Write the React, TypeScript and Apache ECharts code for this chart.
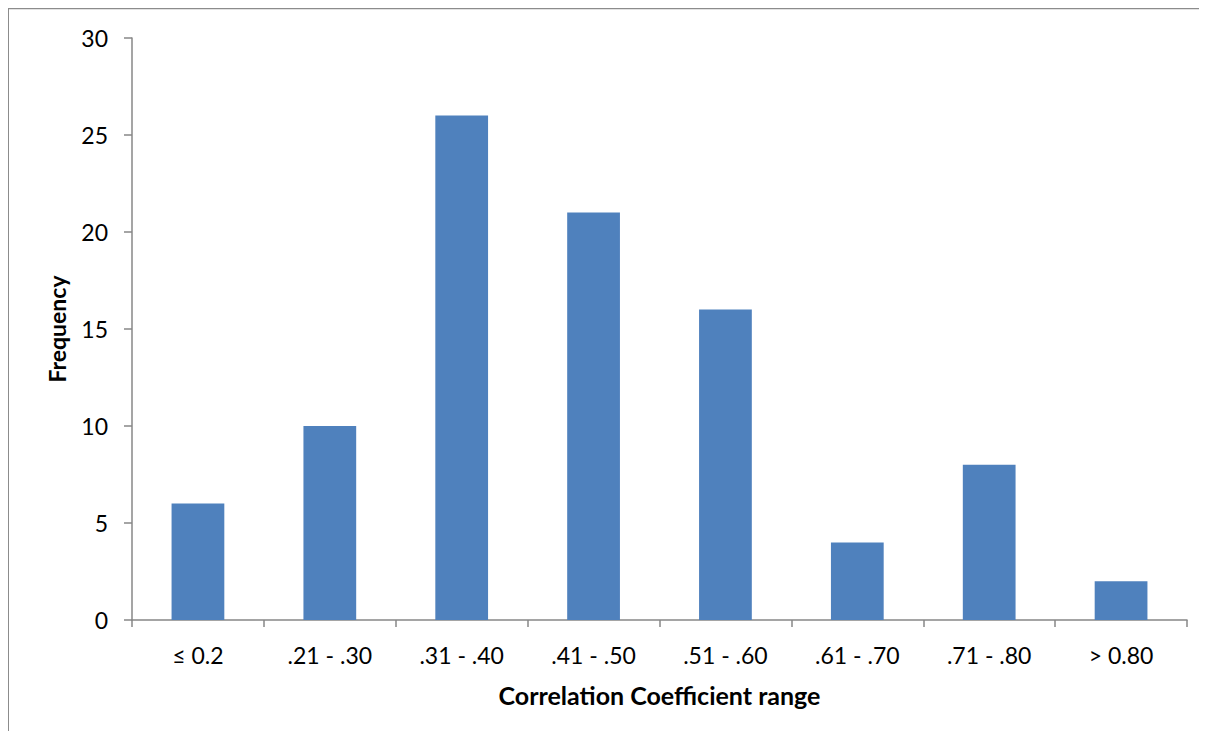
import React, { useEffect, useRef } from "react";
import * as echarts from "echarts";

const categories = ["≤ 0.2", ".21 - .30", ".31 - .40", ".41 - .50", ".51 - .60", ".61 - .70", ".71 - .80", "> 0.80"];
const frequencies = [6, 10, 26, 21, 16, 4, 8, 2];
const yTicks = { min: 0, max: 30, interval: 5 };

const FONT = "Lato, 'Open Sans', sans-serif";
const AXIS_COLOR = "#878787";

export default function App() {
  const ref = useRef<HTMLDivElement>(null);
  useEffect(() => {
    const chart = echarts.init(ref.current!, undefined, { renderer: "svg" });
    chart.setOption({
      animation: false,
      graphic: [
        { type: "line", shape: { x1: 0, y1: 0.5, x2: 1191, y2: 0.5 }, style: { stroke: "#8c8c8c", lineWidth: 1.5 } },
        { type: "line", shape: { x1: 0, y1: 0, x2: 0, y2: 723 }, style: { stroke: "#8c8c8c", lineWidth: 2 } },
      ],
      grid: { left: 124, right: 12, top: 30, bottom: 111 },
      xAxis: {
        type: "category",
        data: categories,
        name: "Correlation Coefficient range",
        nameLocation: "middle",
        nameGap: 62,
        nameTextStyle: { fontFamily: FONT, fontWeight: "bold", fontSize: 25, color: "#000" },
        axisLine: { lineStyle: { color: AXIS_COLOR, width: 1.5 } },
        axisTick: { show: true, length: 7, lineStyle: { color: AXIS_COLOR, width: 1.5 } },
        axisLabel: { margin: 23, fontFamily: FONT, fontSize: 23, color: "#000" },
      },
      yAxis: {
        type: "value",
        min: yTicks.min,
        max: yTicks.max,
        interval: yTicks.interval,
        name: "Frequency",
        nameLocation: "middle",
        nameGap: 64,
        nameRotate: 90,
        nameTextStyle: { fontFamily: FONT, fontWeight: "bold", fontSize: 23, color: "#000" },
        axisLine: { show: true, lineStyle: { color: AXIS_COLOR, width: 1.5 } },
        axisTick: { show: true, length: 8, lineStyle: { color: AXIS_COLOR, width: 1.5 } },
        axisLabel: { margin: 24, fontFamily: FONT, fontSize: 23, color: "#000" },
        splitLine: { show: false },
      },
      series: [
        {
          type: "bar",
          data: frequencies,
          barWidth: "40%",
          itemStyle: { color: "#4F81BD" },
        },
      ],
    });
    return () => chart.dispose();
  }, []);
  return <div ref={ref} style={{ width: 1191, height: 723 }} />;
}
